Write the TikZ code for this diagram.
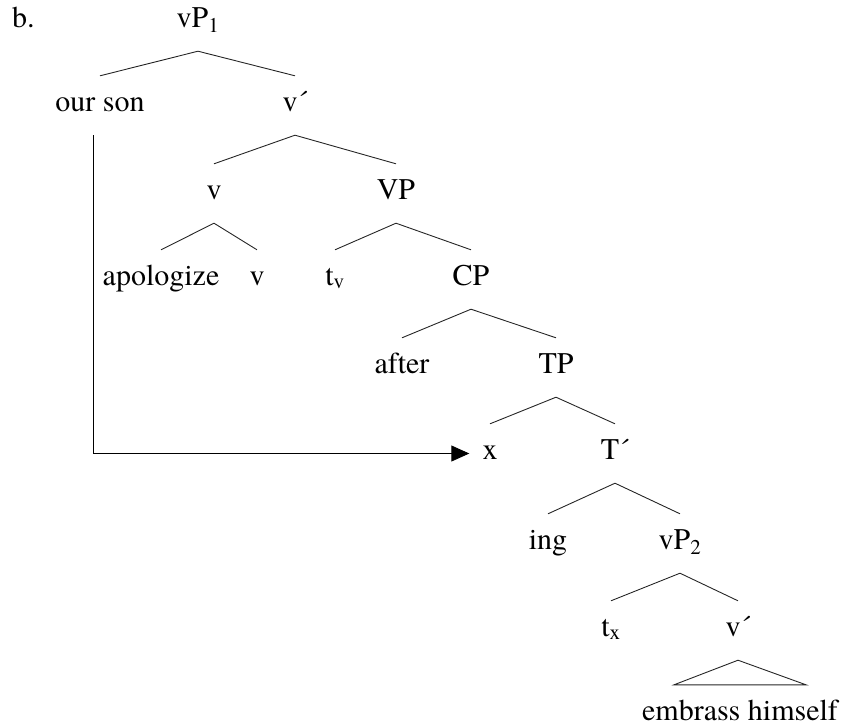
\documentclass[tikz,border=0pt]{standalone}
\usepackage{fontspec}
\setmainfont{texgyretermes}[Extension=.otf, UprightFont=*-regular]
\usetikzlibrary{arrows.meta}

\tikzset{
  word/.style={inner xsep=2pt, inner ysep=16pt, text height=19pt, text depth=8pt, anchor=base},
  branch/.style={draw=black!85, line width=0.9pt},
}

\begin{document}
\begin{tikzpicture}[x=1pt, y=-1pt, every node/.style={font=\fontsize{30}{36}\selectfont}]
\useasboundingbox (0,0) rectangle (843,726);

\node[word, anchor=base west] (b) at (10,27) {b.};
\node[word] (vP1) at (198,27) {vP\textsubscript{1}};

\node[word] (son) at (100,111) {our son};
\node[word] (vbar1) at (295,111) {v´};

\node[word] (v1) at (214,199) {v};
\node[word] (VP) at (396,199) {VP};

\node[word] (apol) at (161,285) {apologize};
\node[word] (v2) at (257,285) {v};
\node[word] (tv) at (335,285) {t\textsubscript{v}};
\node[word] (CP) at (471,285) {CP};

\node[word] (after) at (402,373) {after};
\node[word] (TP) at (556,373) {TP};

\node[word] (x) at (490,459) {x};
\node[word] (Tbar) at (615,459) {T´};

\node[word] (ing) at (548,549) {ing};
\node[word] (vP2) at (680,549) {vP\textsubscript{2}};

\node[word] (tx) at (611,636) {t\textsubscript{x}};
\node[word] (vbar2) at (738,636) {v´};

\node[word] (emb) at (740,720) {embrass himself};

\draw[branch] (vP1.south) -- (son.north);
\draw[branch] (vP1.south) -- (vbar1.north);
\draw[branch] (vbar1.south) -- (v1.north);
\draw[branch] (vbar1.south) -- (VP.north);
\draw[branch] (v1.south) -- (apol.north);
\draw[branch] (v1.south) -- (v2.north);
\draw[branch] (VP.south) -- (tv.north);
\draw[branch] (VP.south) -- (CP.north);
\draw[branch] (CP.south) -- (after.north);
\draw[branch] (CP.south) -- (TP.north);
\draw[branch] (TP.south) -- (x.north);
\draw[branch] (TP.south) -- (Tbar.north);
\draw[branch] (Tbar.south) -- (ing.north);
\draw[branch] (Tbar.south) -- (vP2.north);
\draw[branch] (vP2.south) -- (tx.north);
\draw[branch] (vP2.south) -- (vbar2.north);

% roof over the unanalysed phrase
\draw[branch] (vbar2.south) -- ([xshift=-66pt]emb.north) -- ([xshift=66pt]emb.north) -- cycle;

% movement of the subject into x
\draw[line width=0.9pt, -{Triangle[length=18pt, width=16pt]}, shorten >=11pt]
  ([xshift=-7pt]son.south) |- (x.west);
\end{tikzpicture}
\end{document}
